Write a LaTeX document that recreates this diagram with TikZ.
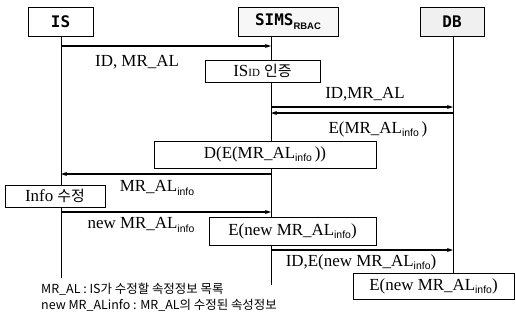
\documentclass[tikz,border=0pt]{standalone}
\usepackage{fontspec}
\setmainfont{Liberation Serif}
\newfontfamily\kr{Noto Sans CJK KR}
\newfontfamily\hdrf{DejaVu Sans Mono}
\newfontfamily\ssf{Liberation Sans}
\usetikzlibrary{arrows.meta}
\newcommand\infosub{\raisebox{-0.4ex}{\ssf\fontsize{10.5}{10}\selectfont info}}
\newcommand\rbacsub{\raisebox{-0.4ex}{\ssf\bfseries\fontsize{9.5}{9}\selectfont RBAC}}
\tikzset{
  hdr/.style={draw, line width=0.8pt, minimum height=29bp, inner sep=0pt,
    font=\hdrf\bfseries\fontsize{16}{18}\selectfont},
  act/.style={draw, line width=0.8pt, fill=white, inner sep=0pt,
    font=\fontsize{17}{18}\selectfont},
  life/.style={line width=0.7pt},
  msg/.style={line width=1.1pt, -{Stealth[length=6bp,width=4bp]}},
  lbl/.style={inner sep=0pt, font=\fontsize{17}{18}\selectfont},
  note/.style={inner sep=0pt, anchor=west, font=\kr\fontsize{12.5}{13}\selectfont}
}
\begin{document}
\begin{tikzpicture}[x=1bp,y=-1bp]
\useasboundingbox (0,0) rectangle (516,320);
% headers
\node[hdr, minimum width=65bp] (IS) at (60.5,21.5) {IS};
\node[hdr, minimum width=100bp, fill=gray!6] (SIMS) at (288,21.5) {SIMS\rbacsub};
\node[hdr, minimum width=64bp, fill=gray!12] (DB) at (452,21.5) {DB};
% lifeline coordinates
\coordinate (isTop) at (61,36);
\coordinate (isEnd) at (61,278);
\coordinate (siTop) at (271,36);
\coordinate (siEnd) at (271,285);
\coordinate (dbTop) at (453,36);
\coordinate (dbEnd) at (453,273);
\draw[life] (isTop) -- (isEnd);
\draw[life] (siTop) -- (siEnd);
\draw[life] (dbTop) -- (dbEnd);
% message end points
\coordinate (m1a) at (61,46);   \coordinate (m1b) at (271,46);
\coordinate (m2a) at (271,107); \coordinate (m2b) at (453,107);
\coordinate (m3a) at (453,113); \coordinate (m3b) at (271,113);
\coordinate (m4a) at (271,174); \coordinate (m4b) at (61,174);
\coordinate (m5a) at (61,212);  \coordinate (m5b) at (271,212);
\coordinate (m6a) at (271,250); \coordinate (m6b) at (453,250);
\draw[msg] (m1a) -- (m1b);
\draw[msg] (m2a) -- (m2b);
\draw[msg] (m3a) -- (m3b);
\draw[msg] (m4a) -- (m4b);
\draw[msg] (m5a) -- (m5b);
\draw[msg] (m6a) -- (m6b);
% labels
\node[lbl] (l1) at (137,62) {ID, MR\_AL};
\node[lbl] (l2) at (365,94) {ID,MR\_AL};
\node[lbl] (l3) at (378,129) {E(MR\_AL\infosub\,)};
\node[lbl] (l4) at (157,188) {MR\_AL\infosub};
\node[lbl] (l5) at (141,225) {new MR\_AL\infosub};
\node[lbl] (l6) at (361,262) {ID,E(new MR\_AL\infosub)};
% activity boxes
\node[act, minimum width=115bp, minimum height=22bp] (auth) at (262.5,71)
  {IS{\fontsize{11}{10}\selectfont ID} {\kr\fontsize{15}{16}\selectfont 인증}};
\node[act, minimum width=222bp, minimum height=27bp] (dec) at (265,154.5)
  {D(E(MR\_AL\infosub\,))};
\node[act, minimum width=100bp, minimum height=22bp] (mod) at (55,196)
  {Info {\kr\fontsize{15}{16}\selectfont 수정}};
\node[act, minimum width=167bp, minimum height=28bp] (enc1) at (292.5,231)
  {E(new MR\_AL\infosub)};
\node[act, minimum width=161bp, minimum height=26bp] (enc2) at (433.5,286)
  {E(new MR\_AL\infosub)};
% notes
\node[note] (n1) at (41,289) {MR\_AL : IS가 수정할 속정정보 목록};
\node[note] (n2) at (41,305) {new MR\_ALinfo : MR\_AL의 수정된 속성정보};
\end{tikzpicture}
\end{document}
